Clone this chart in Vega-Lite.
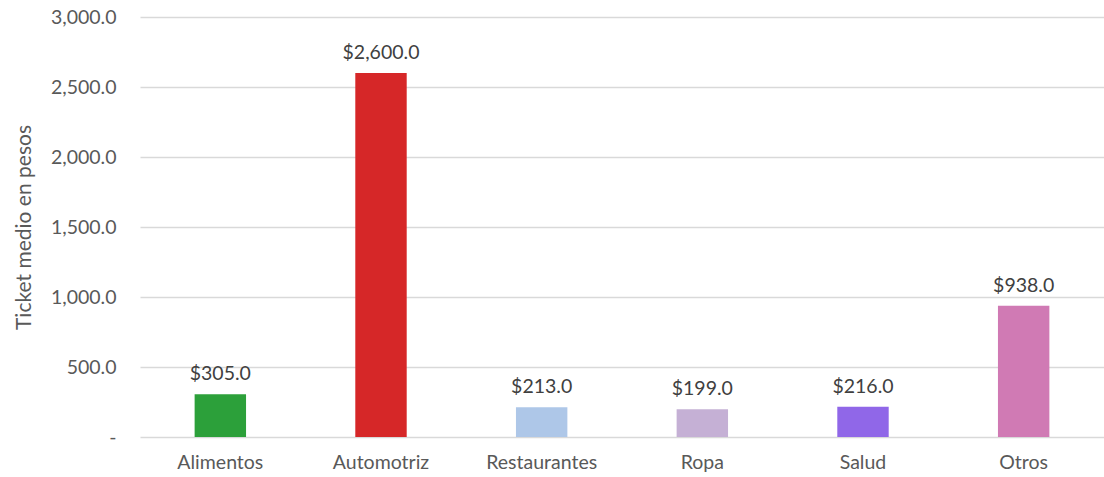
{
  "$schema": "https://vega.github.io/schema/vega-lite/v6.json",
  "width": 964,
  "height": 420,
  "autosize": {"type": "none"},
  "padding": {"left": 140, "top": 17, "right": 0, "bottom": 40},
  "background": "white",
  "config": {
    "view": {"stroke": null},
    "font": "Lato"
  },
  "data": {
    "values": [
      {"categoria": "Alimentos", "ticket": 305, "color": "#2ca03a"},
      {"categoria": "Automotriz", "ticket": 2600, "color": "#d62728"},
      {"categoria": "Restaurantes", "ticket": 213, "color": "#aec7e8"},
      {"categoria": "Ropa", "ticket": 199, "color": "#c5b0d5"},
      {"categoria": "Salud", "ticket": 216, "color": "#9067e8"},
      {"categoria": "Otros", "ticket": 938, "color": "#d07ab4"}
    ]
  },
  "encoding": {
    "x": {
      "field": "categoria",
      "type": "nominal",
      "sort": null,
      "scale": {"paddingInner": 0.68, "paddingOuter": 0.34},
      "axis": {
        "title": null,
        "labelAngle": 0,
        "labelFontSize": 19.5,
        "labelColor": "#595959",
        "labelFont": "Lato",
        "labelPadding": 16,
        "ticks": false,
        "domain": false
      }
    },
    "y": {
      "field": "ticket",
      "type": "quantitative",
      "scale": {"domain": [0, 3000], "nice": false},
      "axis": {
        "title": "Ticket medio en pesos",
        "titleFontSize": 21,
        "titleFontWeight": "normal",
        "titleColor": "#595959",
        "titleFont": "Lato",
        "titlePadding": 16,
        "values": [0, 500, 1000, 1500, 2000, 2500, 3000],
        "labelExpr": "datum.value == 0 ? '-' : format(datum.value, ',.1f')",
        "labelFontSize": 19.5,
        "labelColor": "#595959",
        "labelFont": "Lato",
        "labelPadding": 24,
        "ticks": false,
        "domain": false,
        "grid": true,
        "gridColor": "#d9d9d9",
        "gridWidth": 1.3
      }
    }
  },
  "layer": [
    {
      "mark": {"type": "bar"},
      "encoding": {
        "color": {"field": "color", "type": "nominal", "scale": null}
      }
    },
    {
      "mark": {
        "type": "text",
        "baseline": "bottom",
        "dy": -10,
        "fontSize": 19.5,
        "color": "#404040",
        "font": "Lato"
      },
      "encoding": {
        "text": {"field": "ticket", "type": "quantitative", "format": "$,.1f"}
      }
    }
  ]
}
